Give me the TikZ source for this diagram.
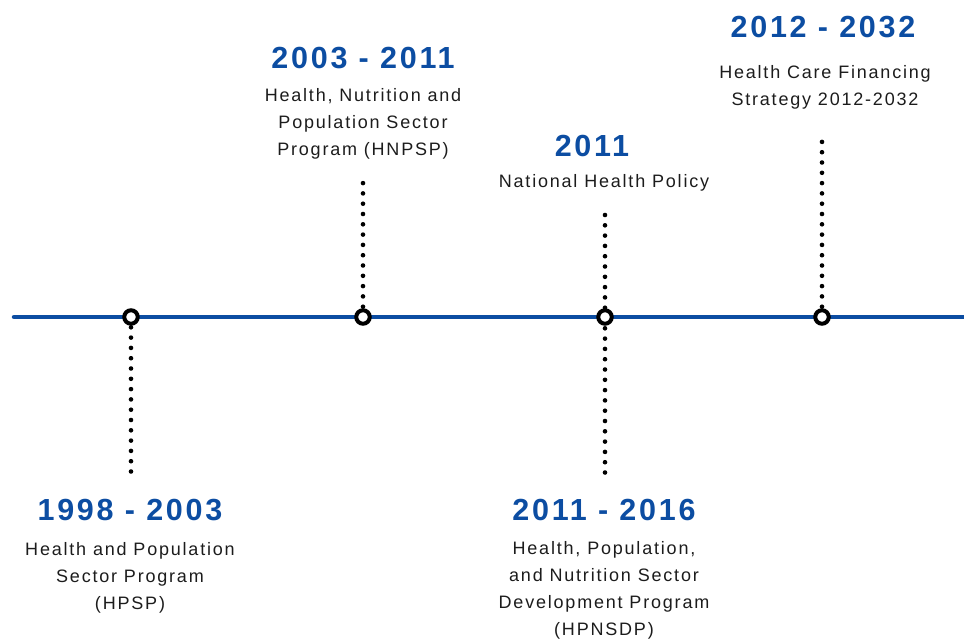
\documentclass[tikz,border=0pt]{standalone}
\usepackage{fontspec}
\setmainfont{Liberation Sans}
\newfontfamily\yearfont[LetterSpace=9]{Liberation Sans Bold}
\newfontfamily\descfont[LetterSpace=10]{Liberation Sans}
\usepackage{tikz}
\usetikzlibrary{positioning}
\usetikzlibrary{calc}

\definecolor{timeblue}{RGB}{12,77,162}
\definecolor{textgray}{RGB}{28,28,28}

\begin{document}
\begin{tikzpicture}[x=1pt,y=-1pt]

\tikzstyle{axis}=[line width=4.5pt, draw=timeblue, line cap=round]
\tikzstyle{milestone}=[circle, draw=black, fill=white, line width=4pt, inner sep=0pt, minimum size=13.5pt]
\tikzstyle{stem}=[line width=4.6pt, line cap=round, dash pattern=on 0pt off 10.3pt]
\tikzstyle{year}=[font=\yearfont\fontsize{30.5}{32}\selectfont, text=timeblue, inner sep=0pt]
\tikzstyle{desc}=[font=\descfont\fontsize{18}{27}\selectfont, text=textgray, align=center, inner sep=0pt, anchor=north]

\useasboundingbox (0,0) rectangle (964,638);

% time axis
\coordinate (left) at (14,317);
\coordinate (right) at (966,317);
\draw[axis](left) -- (right);

% stem ends
\coordinate (s1) at (131,478);
\coordinate (s2) at (363,176);
\coordinate (s3a) at (605,215);
\coordinate (s3b) at (605,478);
\coordinate (s4) at (822,140);

\draw[stem](131,317) -- (s1);
\draw[stem](363,317) -- (s2);
\draw[stem](s3a) -- (s3b);
\draw[stem](822,317) -- (s4);

% milestones
\node[milestone] (m1) at (131,317) {};
\node[milestone] (m2) at (363,317) {};
\node[milestone] (m3) at (605,317) {};
\node[milestone] (m4) at (822,317) {};

% labels
\node[year] (y1) at (130,510) {1998 - 2003};
\node[desc] (d1) at (130,542) {Health and Population\\Sector Program\\(HPSP)};

\node[year] (y2) at (363,58) {2003 - 2011};
\node[desc] (d2) at (363,88) {Health, Nutrition and\\Population Sector\\Program (HNPSP)};

\node[year] (y3) at (592,146) {2011};
\node[desc] (d3) at (604,174) {National Health Policy};

\node[year] (y4) at (604,510) {2011 - 2016};
\node[desc] (d4) at (604,541) {Health, Population,\\and Nutrition Sector\\Development Program\\(HPNSDP)};

\node[year] (y5) at (823,27) {2012 - 2032};
\node[desc] (d5) at (825,65) {Health Care Financing\\Strategy 2012-2032};

\end{tikzpicture}
\end{document}
